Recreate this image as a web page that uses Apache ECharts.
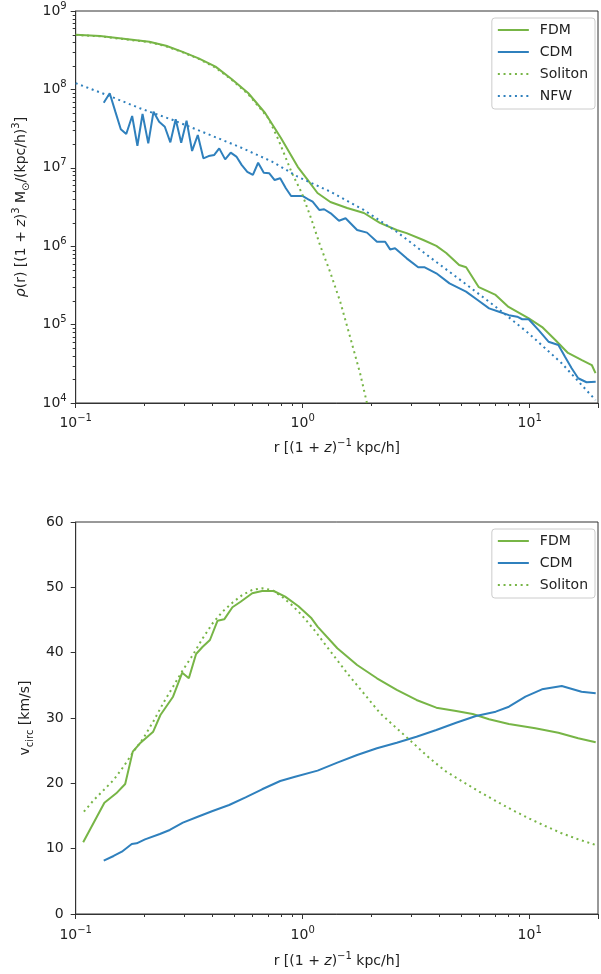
<!DOCTYPE html>
<html>
<head>
<meta charset="utf-8">
<script src="https://cdn.jsdelivr.net/npm/echarts@6/dist/echarts.min.js"></script>
<style>
html,body{margin:0;padding:0;background:#fff;}
#c{width:601px;height:974px;}
</style>
</head>
<body>
<div id="c"></div>
<script>
// ---------------- data (r in (1+z)^-1 kpc/h) ----------------
// Top panel: density rho(r)
const fdmDensity = [[0.1,4.99e8],[0.128,4.8e8],[0.211,4.06e8],[0.25,3.6e8],[0.294,3.03e8],[0.348,2.49e8],[0.413,1.95e8],[0.486,1.36e8],[0.575,9.0e7],[0.683,5.0e7],[0.802,2.4e7],[0.951,1.03e7],[1.052,7.0e6],[1.162,4.77e6],[1.324,3.66e6],[1.57,3.07e6],[1.862,2.65e6],[2.188,1.98e6],[2.594,1.61e6],[2.87,1.47e6],[3.40,1.2e6],[3.88,1.01e6],[4.29,8.2e5],[4.89,5.75e5],[5.25,5.4e5],[5.97,3.0e5],[7.08,2.39e5],[8.07,1.68e5],[9.87,1.21e5],[11.35,9.3e4],[12.94,6.4e4],[14.75,4.35e4],[16.98,3.53e4],[18.78,3.05e4],[19.5,2.4e4]];
const cdmDensity = [[0.1329,6.77e7],[0.1412,8.92e7],[0.1495,5.2e7],[0.158,3.1e7],[0.167,2.7e7],[0.1773,4.58e7],[0.187,1.91e7],[0.197,4.86e7],[0.2088,2.05e7],[0.2202,5.2e7],[0.2331,3.87e7],[0.2469,3.34e7],[0.2612,2.11e7],[0.2757,4.16e7],[0.2916,2.09e7],[0.3079,3.99e7],[0.3257,1.64e7],[0.345,2.62e7],[0.3652,1.32e7],[0.3852,1.41e7],[0.4078,1.46e7],[0.4289,1.77e7],[0.4555,1.28e7],[0.4819,1.56e7],[0.5104,1.39e7],[0.5382,1.09e7],[0.57,8.9e6],[0.6035,8.1e6],[0.6364,1.16e7],[0.6739,8.66e6],[0.7129,8.5e6],[0.7525,6.98e6],[0.796,7.35e6],[0.8431,5.48e6],[0.889,4.37e6],[0.9415,4.37e6],[0.997,4.37e6],[1.059,3.96e6],[1.106,3.7e6],[1.183,2.9e6],[1.243,2.96e6],[1.329,2.63e6],[1.445,2.11e6],[1.545,2.27e6],[1.737,1.61e6],[1.92,1.49e6],[2.124,1.14e6],[2.308,1.14e6],[2.427,9.1e5],[2.552,9.4e5],[2.871,7.0e5],[3.228,5.38e5],[3.449,5.38e5],[3.879,4.51e5],[4.434,3.36e5],[5.244,2.63e5],[5.897,2.06e5],[6.625,1.61e5],[7.326,1.46e5],[8.1,1.32e5],[8.81,1.26e5],[9.27,1.17e5],[9.9,1.17e5],[10.95,8.5e4],[12.1,6.05e4],[13.38,5.5e4],[14.31,3.9e4],[15.31,2.77e4],[16.36,2.07e4],[17.8,1.84e4],[19.54,1.86e4]];
const solitonDensity = [[0.1,4.95e8],[0.128,4.75e8],[0.211,4.0e8],[0.25,3.55e8],[0.294,3.0e8],[0.348,2.45e8],[0.413,1.9e8],[0.486,1.33e8],[0.575,8.7e7],[0.706,4.3e7],[0.783,2.26e7],[0.838,1.39e7],[0.896,8.6e6],[0.99,4.8e6],[1.084,2.35e6],[1.197,1.0e6],[1.324,4.6e5],[1.464,1.95e5],[1.618,6.95e4],[1.79,2.4e4],[1.919,1.0e4]];
const nfwDensity = [[0.1,1.2e8],[0.137,8.5e7],[0.192,5.74e7],[0.268,4.07e7],[0.375,2.75e7],[0.524,1.86e7],[0.733,1.2e7],[0.951,7.7e6],[1.324,4.96e6],[1.858,2.9e6],[2.594,1.53e6],[3.61,7.35e5],[5.07,3.52e5],[7.08,1.69e5],[9.87,7.8e4],[13.8,3.24e4],[19.5,1.09e4]];
// Bottom panel: circular velocity (km/s)
const fdmVcirc = [[0.1079,10.97],[0.1338,17.04],[0.1509,18.47],[0.1652,19.9],[0.1784,24.85],[0.1920,26.13],[0.2195,27.9],[0.2362,30.46],[0.2684,33.26],[0.2947,36.93],[0.3151,36.08],[0.3391,39.8],[0.3627,40.9],[0.3903,41.94],[0.4217,44.9],[0.4510,45.1],[0.4902,46.95],[0.5328,47.8],[0.5994,49.09],[0.6624,49.44],[0.7452,49.44],[0.8372,48.57],[0.9578,47.1],[1.094,45.26],[1.163,43.98],[1.421,40.67],[1.737,38.11],[2.124,36.08],[2.597,34.29],[3.172,32.76],[3.879,31.58],[4.742,31.07],[5.61,30.61],[6.625,29.8],[8.1,29.08],[10.59,28.42],[13.38,27.75],[16.36,26.9],[19.54,26.28]];
const cdmVcirc = [[0.1329,8.16],[0.1469,8.88],[0.1597,9.54],[0.1766,10.71],[0.1856,10.82],[0.202,11.43],[0.2348,12.25],[0.2597,12.86],[0.2967,13.98],[0.345,14.89],[0.401,15.77],[0.4742,16.68],[0.5603,17.86],[0.6624,19.09],[0.7962,20.36],[0.9256,21.02],[1.163,21.94],[1.421,23.16],[1.737,24.34],[2.124,25.36],[2.597,26.22],[3.172,27.14],[3.879,28.16],[4.742,29.28],[5.8,30.31],[7.087,30.97],[8.1,31.73],[9.58,33.26],[11.33,34.39],[13.85,34.9],[16.92,34.03],[19.54,33.78]];
const solitonVcirc = [[0.1087,15.66],[0.1202,17.45],[0.1329,18.98],[0.1469,20.51],[0.1624,22.55],[0.1796,24.85],[0.1986,26.9],[0.2195,29.44],[0.2427,32.25],[0.2684,34.79],[0.2967,37.35],[0.328,39.64],[0.3627,42.2],[0.401,44.5],[0.4434,46.27],[0.4902,47.65],[0.542,48.83],[0.5994,49.6],[0.6624,49.85],[0.7326,49.6],[0.8099,48.57],[0.8954,47.3],[0.9899,45.77],[1.125,43.47],[1.329,40.15],[1.571,36.84],[1.858,33.78],[2.195,30.72],[2.597,28.42],[3.07,26.13],[3.627,23.83],[4.29,21.78],[5.073,20.25],[5.994,18.72],[7.087,17.3],[8.38,15.92],[9.9,14.65],[11.71,13.47],[13.85,12.35],[16.36,11.43],[19.54,10.56]];
// axes
const xRange = [0.1, 20];
const rhoRange = [1e4, 1e9];
const vRange = [0, 60];
const vTickStep = 10;
const xMinorTicks = [0.2,0.3,0.4,0.5,0.6,0.7,0.8,0.9,2,3,4,5,6,7,8,9];
const rhoMinorTicks = [];
[1e4,1e5,1e6,1e7,1e8].forEach(d => { for (let k = 2; k <= 9; k++) rhoMinorTicks.push(k * d); });

// ---------------- styles ----------------
const GREEN = '#77b546';
const BLUE = '#2f80bd';
const AX = '#333333';
const TXT = '#222222';
const FONT = 'DejaVu Sans';

const rich = {
  b: {fontSize: 14, fontFamily: FONT, color: TXT, lineHeight: 20},
  i: {fontSize: 14, fontFamily: FONT, color: TXT, lineHeight: 20, fontStyle: 'italic'},
  s: {fontSize: 10, fontFamily: FONT, color: TXT, lineHeight: 11, verticalAlign: 'top'},
  d: {fontSize: 10, fontFamily: FONT, color: TXT, lineHeight: 11, verticalAlign: 'bottom'}
};
function powLabel(v) {
  const e = Math.log10(v);
  const r = Math.round(e);
  if (Math.abs(e - r) > 1e-6) return '';
  return '{b|10}{s|' + (r < 0 ? '\u2212' + (-r) : r) + '}';
}
const xName = '{b|r [(1 + }{i|z}{b|)}{s|\u22121}{b| kpc/h]}';

function xAxisCfg(gi, labelMargin, nameGap) {
  return {
    type: 'log', logBase: 10, gridIndex: gi, min: xRange[0], max: xRange[1],
    axisLine: {show: true, lineStyle: {color: AX, width: 1}},
    axisTick: {show: true, length: 5, lineStyle: {color: AX}},
    splitLine: {show: false},
    axisLabel: {formatter: powLabel, rich: rich, margin: labelMargin},
    name: xName, nameLocation: 'middle', nameGap: nameGap, nameTextStyle: {rich: rich}
  };
}

function minorTicks(gi, xVals, yVals, xMin, yMin) {
  const data = [];
  xVals.forEach(v => data.push([v, yMin, 0]));
  yVals.forEach(v => data.push([xMin, v, 1]));
  return {
    type: 'custom', xAxisIndex: gi, yAxisIndex: gi, silent: true, clip: false, z: 5,
    data: data, encode: {x: 0, y: 1},
    renderItem: function (params, api) {
      const p = api.coord([api.value(0), api.value(1)]);
      const kind = api.value(2);
      const x = Math.round(p[0]) + 0.5, y = Math.round(p[1]) + 0.5;
      const shape = kind === 0 ? {x1: x, y1: p[1], x2: x, y2: p[1] + 3} : {x1: p[0] - 3, y1: y, x2: p[0], y2: y};
      return {type: 'line', shape: shape, style: {stroke: AX, lineWidth: 1}};
    }
  };
}

function lineSeries(name, gi, data, color, dotted) {
  return {
    name: name, type: 'line', xAxisIndex: gi, yAxisIndex: gi, data: data,
    symbol: 'none', showSymbol: false, smooth: false, animation: false,
    lineStyle: {color: color, width: 2, type: dotted ? [2, 3.7] : 'solid', cap: 'butt'},
    itemStyle: {color: color}, z: 3
  };
}

function legendCfg(top, names) {
  return {
    orient: 'vertical', right: 6, top: top, data: names,
    itemWidth: 31, itemHeight: 14, itemGap: 8,
    itemStyle: {opacity: 0, borderWidth: 0},
    backgroundColor: 'rgba(255,255,255,0.85)', borderColor: '#cccccc', borderWidth: 1, borderRadius: 3,
    padding: [5, 7, 6, 5],
    textStyle: {fontSize: 14, fontFamily: FONT, color: TXT, padding: [0, 0, 0, 6]},
    selectedMode: false
  };
}

const chart = echarts.init(document.getElementById('c'), null, {renderer: 'canvas'});
chart.setOption({
  animation: false,
  backgroundColor: '#ffffff',
  textStyle: {fontFamily: FONT},
  grid: [
    {left: 75.7, top: 11, width: 527.6, height: 392, show: true, borderColor: AX, borderWidth: 1, backgroundColor: 'transparent'},
    {left: 75.7, top: 522, width: 527.6, height: 392, show: true, borderColor: AX, borderWidth: 1, backgroundColor: 'transparent'}
  ],
  legend: [
    legendCfg(18, ['FDM', 'CDM', 'Soliton', 'NFW']),
    legendCfg(529, ['FDM', 'CDM', 'Soliton'])
  ],
  xAxis: [xAxisCfg(0, 10, 35), xAxisCfg(1, 11, 37)],
  yAxis: [
    {
      type: 'log', logBase: 10, gridIndex: 0, min: rhoRange[0], max: rhoRange[1],
      axisLine: {show: true, lineStyle: {color: AX, width: 1}},
      axisTick: {show: true, length: 5, lineStyle: {color: AX}},
      splitLine: {show: false},
      axisLabel: {formatter: powLabel, rich: rich, margin: 9},
      name: '{i|\u03c1}{b|(r) [(1 + }{i|z}{b|)}{s|3}{b| M}{d|\u2299}{b|/(kpc/h)}{s|3}{b|]}',
      nameLocation: 'middle', nameGap: 44, nameRotate: 90, nameTextStyle: {rich: rich}
    },
    {
      type: 'value', gridIndex: 1, min: vRange[0], max: vRange[1], interval: vTickStep,
      axisLine: {show: true, lineStyle: {color: AX, width: 1}},
      axisTick: {show: true, length: 5, lineStyle: {color: AX}},
      splitLine: {show: false},
      axisLabel: {fontSize: 14, fontFamily: FONT, color: TXT, margin: 12},
      name: '{b|v}{d|circ}{b| [km/s]}',
      nameLocation: 'middle', nameGap: 37, nameRotate: 90, nameTextStyle: {rich: rich}
    }
  ],
  series: [
    lineSeries('FDM', 0, fdmDensity, GREEN, false),
    lineSeries('CDM', 0, cdmDensity, BLUE, false),
    lineSeries('Soliton', 0, solitonDensity, GREEN, true),
    lineSeries('NFW', 0, nfwDensity, BLUE, true),
    lineSeries('FDM', 1, fdmVcirc, GREEN, false),
    lineSeries('CDM', 1, cdmVcirc, BLUE, false),
    lineSeries('Soliton', 1, solitonVcirc, GREEN, true),
    minorTicks(0, xMinorTicks, rhoMinorTicks, xRange[0], rhoRange[0]),
    minorTicks(1, xMinorTicks, [], xRange[0], vRange[0])
  ]
});
</script>
</body>
</html>
